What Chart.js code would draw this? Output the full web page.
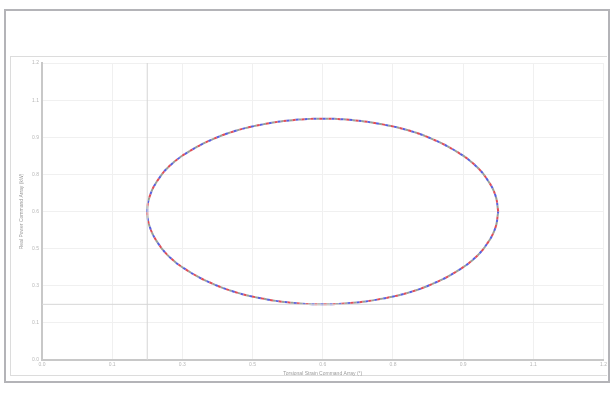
<!DOCTYPE html>
<html>
<head>
<meta charset="utf-8">
<script src="https://cdn.jsdelivr.net/npm/chart.js@4/dist/chart.umd.min.js"></script>
<style>
  body { margin: 0; background: #fff; font-family: "Open Sans", sans-serif; }
  #outer { position: absolute; left: 4px; top: 9px; width: 602px; height: 370px; border: 2px solid #b4b4b8; }
  #inner { position: absolute; left: 10px; top: 56px; width: 596px; height: 318px; border: 1px solid #dcdcdc; border-right: none; }
  #wrap { position: absolute; left: 11px; top: 57px; width: 598px; height: 321px; }
</style>
</head>
<body>
<div id="outer"></div>
<div id="inner"></div>
<div id="wrap"><canvas id="chart"></canvas></div>
<script>
// loop, every 10 degrees
const strainValues = [0.975, 0.969, 0.952, 0.925, 0.887, 0.841, 0.788, 0.728, 0.665, 0.600,
  0.535, 0.472, 0.412, 0.359, 0.313, 0.275, 0.248, 0.231, 0.225, 0.231, 0.248, 0.275,
  0.313, 0.359, 0.412, 0.472, 0.535, 0.600, 0.665, 0.728, 0.788, 0.841, 0.887, 0.925,
  0.952, 0.969, 0.975];
const powerValues = [0.600, 0.665, 0.728, 0.788, 0.841, 0.887, 0.925, 0.952, 0.969, 0.975,
  0.969, 0.952, 0.925, 0.887, 0.841, 0.788, 0.728, 0.665, 0.600, 0.535, 0.472, 0.412,
  0.359, 0.313, 0.275, 0.248, 0.231, 0.225, 0.231, 0.248, 0.275, 0.313, 0.359, 0.412,
  0.472, 0.535, 0.600];
const tickValues = [0, 0.15, 0.3, 0.45, 0.6, 0.75, 0.9, 1.05, 1.2];
// the two straight guide lines
const guideX = [0.225, 0.225];
const guideY = [0.225, 0.225];
const axisRange = [0, 1.2];

const loop = strainValues.map((x, i) => ({ x: x, y: powerValues[i] }));

const dashed = (color, offset) => ({
  data: loop,
  showLine: true,
  borderColor: color,
  borderWidth: 2,
  borderDash: [3, 6],
  borderDashOffset: offset,
  pointRadius: 0,
  tension: 0.4,
  fill: false,
});

const chart = new Chart(document.getElementById("chart"), {
  type: "scatter",
  data: {
    datasets: [
      {
        data: [{ x: guideX[0], y: axisRange[0] }, { x: guideX[1], y: axisRange[1] }],
        showLine: true, borderColor: "#d6d6d6", borderWidth: 1, pointRadius: 0,
      },
      {
        data: [{ x: axisRange[0], y: guideY[0] }, { x: axisRange[1], y: guideY[1] }],
        showLine: true, borderColor: "#d6d6d6", borderWidth: 1, pointRadius: 0,
      },
      dashed("rgba(220, 60, 70, 0.9)", 0),
      dashed("rgba(70, 80, 220, 0.9)", 3),
      dashed("rgba(140, 150, 140, 0.9)", 6),
    ],
  },
  options: {
    responsive: true,
    maintainAspectRatio: false,
    animation: false,
    layout: { padding: { left: 4, right: 2, top: 4, bottom: 0 } },
    plugins: { legend: { display: false }, tooltip: { enabled: false } },
    scales: {
      x: {
        type: "linear",
        min: axisRange[0],
        max: axisRange[1],
        afterBuildTicks: (axis) => { axis.ticks = tickValues.map((v) => ({ value: v })); },
        ticks: { color: "#b8b8b8", font: { size: 5 }, padding: 2, callback: (v) => v.toFixed(1) },
        grid: { color: "#f0f0f0", drawTicks: false },
        border: { color: "#c8c8c8", width: 2 },
        title: { display: true, text: "Torsional Strain Command Array (°)", color: "#9a9a9a", font: { size: 5 }, padding: 1 },
      },
      y: {
        type: "linear",
        min: axisRange[0],
        max: axisRange[1],
        afterBuildTicks: (axis) => { axis.ticks = tickValues.map((v) => ({ value: v })); },
        ticks: { color: "#b8b8b8", font: { size: 5 }, padding: 3, callback: (v) => v.toFixed(1) },
        grid: { color: "#f0f0f0", drawTicks: false },
        border: { color: "#c8c8c8", width: 2 },
        title: { display: true, text: "Real Power Command Array (kW)", color: "#9a9a9a", font: { size: 5 }, padding: 4 },
      },
    },
  },
});
</script>
</body>
</html>
